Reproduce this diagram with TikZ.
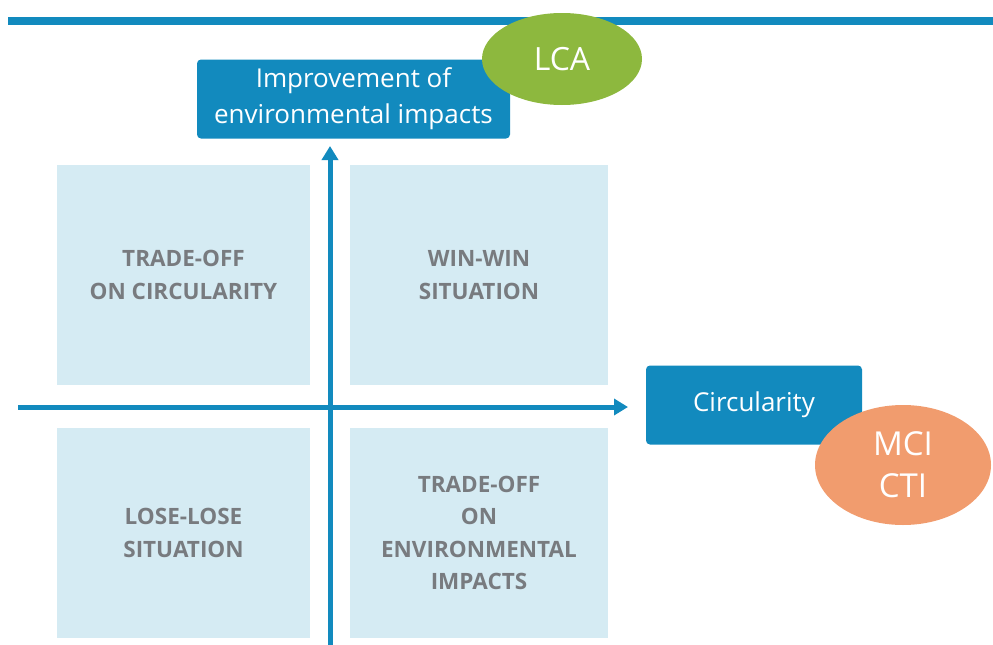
\documentclass[tikz,border=0pt]{standalone}
\usepackage{fontspec}
\setmainfont{Open Sans}
\usetikzlibrary{arrows.meta,shapes.geometric}
\definecolor{mainblue}{RGB}{18,138,190}
\definecolor{quadfill}{RGB}{213,235,243}
\definecolor{quadtext}{RGB}{120,123,127}
\definecolor{lcagreen}{RGB}{141,184,62}
\definecolor{mcisalmon}{RGB}{241,156,110}
\tikzset{
  quad/.style={fill=quadfill,draw=none,minimum width=253pt,inner sep=0pt,align=center,
    font=\fontsize{22.5}{32.5}\selectfont\bfseries,text=quadtext},
  axisbox/.style={fill=mainblue,draw=none,rounded corners=4pt,text=white,align=center,
    font=\fontsize{26}{36}\selectfont,inner sep=0pt},
  tag/.style={ellipse,draw=none,text=white,align=center,inner sep=0pt},
  axis/.style={draw=mainblue,line width=5pt,-{Triangle[length=14pt,width=16pt]}}
}
\begin{document}
\begin{tikzpicture}[x=1pt,y=-1pt]
\useasboundingbox (0,0) rectangle (993,645);
% top rule
\coordinate (ruleL) at (8,21);
\coordinate (ruleR) at (993,21);
\draw[mainblue,line width=8.5pt] (ruleL) -- (ruleR);
% quadrants
\node[quad,minimum height=220pt] (tl) at (183.5,275) {TRADE-OFF\\ON CIRCULARITY};
\node[quad,minimum height=220pt,minimum width=258pt] (tr) at (479,275) {WIN-WIN\\SITUATION};
\node[quad,minimum height=210pt] (bl) at (183.5,533) {LOSE-LOSE\\SITUATION};
\node[quad,minimum height=210pt,minimum width=258pt] (br) at (479,533) {TRADE-OFF\\ON\\ENVIRONMENTAL\\IMPACTS};
% axes
\coordinate (vstart) at (330,645);
\coordinate (vend) at (330,146);
\coordinate (hstart) at (18,407);
\coordinate (hend) at (628,407);
\draw[axis] (vstart) -- (vend);
\draw[axis] (hstart) -- (hend);
% axis boxes
\node[axisbox,minimum width=313pt,minimum height=79pt] (env) at (353.5,99) {Improvement of\\environmental impacts};
\node[axisbox,minimum width=216pt,minimum height=79pt] (circ) at (754,405) {Circularity};
% tags
\node[tag,fill=lcagreen,minimum width=160pt,minimum height=92pt,font=\fontsize{32}{38}\selectfont] (lca) at (562,59) {LCA};
\node[tag,fill=mcisalmon,minimum width=176pt,minimum height=120pt,font=\fontsize{33}{42}\selectfont] (mci) at (903,465) {MCI\\CTI};
\end{tikzpicture}
\end{document}
